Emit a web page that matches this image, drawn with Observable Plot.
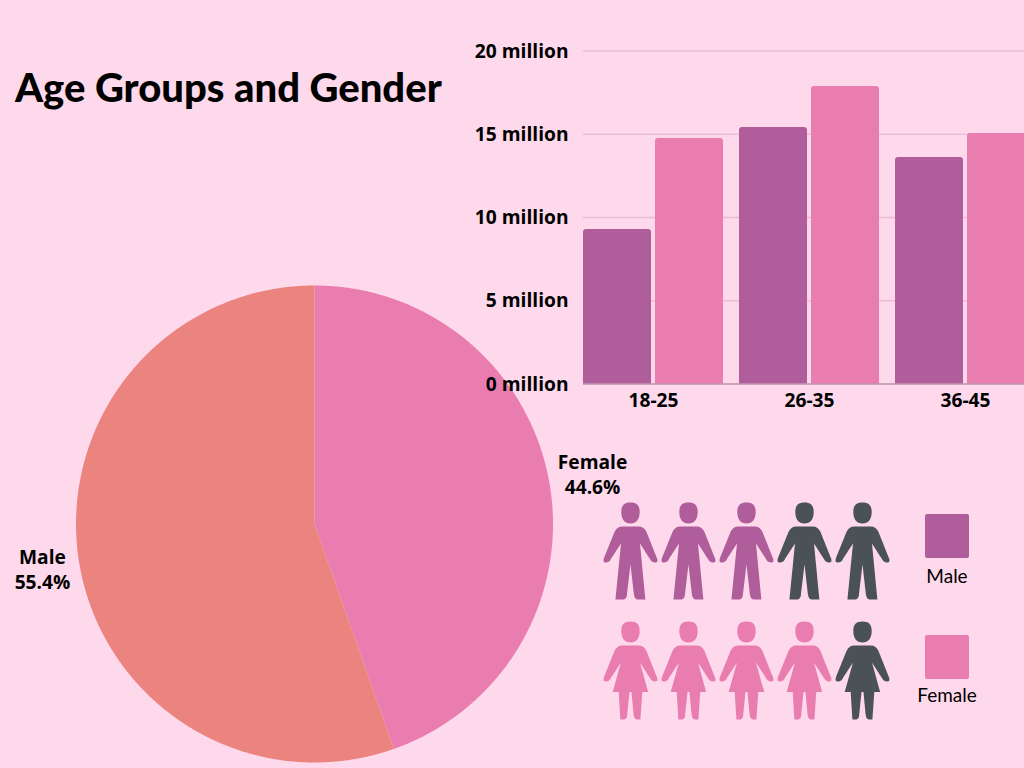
<!DOCTYPE html>
<html>
<head>
<meta charset="utf-8">
<script src="https://cdn.jsdelivr.net/npm/d3@7"></script>
<script src="https://cdn.jsdelivr.net/npm/@observablehq/plot@0.6"></script>
<style>
html,body{margin:0;padding:0;background:#fed9eb;overflow:hidden;}
#page{position:relative;width:1024px;height:768px;overflow:hidden;background:#fed9eb;color:#000;}
#page svg{position:absolute;background:transparent;}
h1{position:absolute;left:15px;top:64px;margin:0;font:900 40px/46px Lato,sans-serif;white-space:nowrap;}
.sw{position:absolute;left:925px;width:44px;height:44px;border-radius:2px;}
.lg{position:absolute;left:887px;width:120px;text-align:center;font:400 19px/20px Lato,sans-serif;}
</style>
</head>
<body>
<div id="page">
  <h1>Age Groups and Gender</h1>
  <div class="sw" id="swMale" style="top:514px"></div>
  <div class="lg" style="top:566px">Male</div>
  <div class="sw" id="swFemale" style="top:635px"></div>
  <div class="lg" style="top:685px">Female</div>
</div>
<script>
const ageGroups = ["18-25", "26-35", "36-45"];
const genders = ["Male", "Female"];
const maleMillions = [9.28, 15.4, 13.6];
const femaleMillions = [14.74, 17.87, 15.05];
const pieLabels = ["Female", "Male"];
const pieShares = [44.6, 55.4];
const yTicks = [0, 5e6, 10e6, 15e6, 20e6];
const iconColumns = [1, 2, 3, 4, 5];
const maleFilled = 3;
const femaleFilled = 4;

const colMale = "#b05e9b", colFemale = "#ea7db0", colSalmon = "#eb837f", colDark = "#4a5157";
const fs = 19.2;
const bold = {fontFamily: "'Open Sans',sans-serif", fontSize: fs + "px", fontWeight: 700, color: "#000", background: "transparent", overflow: "visible"};
const page = document.getElementById("page");
document.getElementById("swMale").style.background = colMale;
document.getElementById("swFemale").style.background = colFemale;

function place(svg, left, top) {
  svg.style.left = left + "px";
  svg.style.top = top + "px";
  page.appendChild(svg);
}

/* ---- pie: polygons drawn through the x/y scales ---- */
const pieCol = {Female: colFemale, Male: colSalmon};
const arcs = d3.pie().sort(null).value(d => d.share)(pieLabels.map((name, i) => ({name, share: pieShares[i]})));
const pts = arcs.flatMap(a => {
  const n = Math.ceil((a.endAngle - a.startAngle) * 180 / Math.PI * 2);
  const rim = d3.range(n + 1).map(i => {
    const t = a.startAngle + (a.endAngle - a.startAngle) * i / n;
    return {name: a.data.name, px: Math.sin(t), py: Math.cos(t)};
  });
  return [{name: a.data.name, px: 0, py: 0}, ...rim, {name: a.data.name, px: 0, py: 0}];
});
const labelR = 1.17;
const pieText = arcs.map(a => {
  const m = (a.startAngle + a.endAngle) / 2;
  return {text: `${a.data.name}\n${a.data.share}%`, px: labelR * Math.sin(m), py: labelR * Math.cos(m)};
});
place(Plot.plot({
  width: 624, height: 508,
  marginLeft: 75.5, marginRight: 71.5, marginTop: 25, marginBottom: 6,
  style: bold,
  x: {domain: [-1, 1], axis: null},
  y: {domain: [-1, 1], axis: null},
  marks: [
    Plot.line(pts, {x: "px", y: "py", z: "name", fill: d => pieCol[d.name], stroke: "none", curve: "linear-closed"}),
    Plot.text(pieText, {x: "px", y: "py", text: "text", fill: "#000", dx: 3, dy: -3, lineHeight: 1.3, fontSize: fs, fontWeight: 700})
  ]
}), 0, 260);

/* ---- y axis and grid ---- */
place(Plot.plot({
  width: 575, height: 385,
  marginLeft: 123, marginRight: 0, marginTop: 20.5, marginBottom: 31.5,
  style: bold,
  y: {domain: [0, 20e6], axis: null},
  marks: [
    Plot.ruleY(yTicks, {stroke: "#e9bdd3", strokeWidth: 1.5}),
    Plot.axisY({ticks: yTicks, tickFormat: d => `${d / 1e6} million`, tickSize: 0, tickPadding: 15, dy: 0.5, label: null, fill: "#000"})
  ]
}), 460, 30);

/* ---- grouped bars: rounded tops only, the lower corners are clipped at the baseline ---- */
const bars = ageGroups.flatMap((age, i) => [
  {age, gender: "Male", value: maleMillions[i] * 1e6},
  {age, gender: "Female", value: femaleMillions[i] * 1e6}
]);
place(Plot.plot({
  width: 575, height: 385,
  marginLeft: 123, marginRight: 0, marginTop: 20.5, marginBottom: 31.5,
  style: bold,
  fx: {domain: ageGroups, paddingInner: 16 / 156, paddingOuter: 0, round: false, label: null, axis: null},
  x: {domain: genders, paddingInner: 4 / 72, paddingOuter: 0, round: false, axis: null},
  y: {domain: [0, 20e6], axis: null},
  marks: [
    Plot.barY(bars, {fx: "age", x: "gender", y: "value", fill: d => d.gender === "Male" ? colMale : colFemale, rx: 3, insetBottom: -4, clip: "frame"}),
    Plot.axisFx({anchor: "bottom", tickSize: 0, tickPadding: 9, label: null, fill: "#000"})
  ]
}), 460, 30);

/* ---- baseline over the bars ---- */
place(Plot.plot({
  width: 575, height: 385,
  marginLeft: 123, marginRight: 0, marginTop: 20.5, marginBottom: 31.5,
  style: bold,
  y: {domain: [0, 20e6], axis: null},
  marks: [Plot.ruleY([0], {stroke: "#a9829b", strokeWidth: 1})]
}), 460, 30);

/* ---- pictogram: custom dot symbols ---- */
const headSegs = (ctx, k) => {
  const Y = y => (y - 49) * k;
  ctx.moveTo(0, Y(0));
  ctx.bezierCurveTo(6.5 * k, Y(0), 9.2 * k, Y(3), 9.2 * k, Y(9.5));
  ctx.bezierCurveTo(9.2 * k, Y(16.5), 6 * k, Y(21), 0, Y(21));
  ctx.bezierCurveTo(-6 * k, Y(21), -9.2 * k, Y(16.5), -9.2 * k, Y(9.5));
  ctx.bezierCurveTo(-9.2 * k, Y(3), -6.5 * k, Y(0), 0, Y(0));
  ctx.closePath();
};
function mirrored(ctx, k, start, segs) {
  const Y = y => (y - 49) * k;
  ctx.moveTo(-start[0] * k, Y(start[1]));
  ctx.lineTo(start[0] * k, Y(start[1]));
  for (const s of segs) ctx.bezierCurveTo(s[0] * k, Y(s[1]), s[2] * k, Y(s[3]), s[4] * k, Y(s[5]));
  for (let i = segs.length - 1; i >= 0; i--) {
    const p = i ? [segs[i - 1][4], segs[i - 1][5]] : start;
    const s = segs[i];
    ctx.bezierCurveTo(-s[2] * k, Y(s[3]), -s[0] * k, Y(s[1]), -p[0] * k, Y(p[1]));
  }
  ctx.closePath();
}
const L = (x0, y0, x, y) => [x0, y0, x, y, x, y];
const armTop = [
  [12, 24, 14.5, 26, 16, 29.5],
  L(16, 29.5, 26.5, 55.5),
  [27.5, 58.5, 27, 60, 24.5, 60],
  [22, 60, 20.5, 58.5, 19.5, 56.5],
  L(19.5, 56.5, 9.5, 41)
];
const manSymbol = {draw(ctx, size) {
  const k = Math.sqrt(size / Math.PI);
  headSegs(ctx, k);
  mirrored(ctx, k, [8, 24], [
    ...armTop,
    L(9.5, 41, 15, 97),
    L(15, 97, 8, 97),
    [5, 97, 4, 95.5, 3.5, 92],
    L(3.5, 92, 0, 62)
  ]);
}};
const womanSymbol = {draw(ctx, size) {
  const k = Math.sqrt(size / Math.PI);
  headSegs(ctx, k);
  mirrored(ctx, k, [8, 24], [
    ...armTop,
    L(9.5, 41, 17.8, 70.5),
    L(17.8, 70.5, 11.8, 70.5),
    L(11.8, 70.5, 10, 98),
    L(10, 98, 6, 98),
    [4, 97, 3.5, 96, 3.2, 93],
    L(3.2, 93, 1, 70.5),
    L(1, 70.5, 0, 70.5)
  ]);
}};
const men = iconColumns.map(col => ({col, row: "Male", on: col <= maleFilled}));
const women = iconColumns.map(col => ({col, row: "Female", on: col <= femaleFilled}));
place(Plot.plot({
  width: 290, height: 240,
  marginLeft: 40, marginRight: 18, marginTop: 60.5, marginBottom: 60.5,
  style: bold,
  x: {type: "point", domain: iconColumns, padding: 0, axis: null},
  y: {type: "point", domain: genders, padding: 0, axis: null},
  marks: [
    Plot.dot(men, {x: "col", y: "row", r: 1, symbol: manSymbol, stroke: "none", fill: d => d.on ? colMale : colDark}),
    Plot.dot(women, {x: "col", y: "row", r: 1, symbol: womanSymbol, stroke: "none", fill: d => d.on ? colFemale : colDark})
  ]
}), 590, 490);
</script>
</body>
</html>
